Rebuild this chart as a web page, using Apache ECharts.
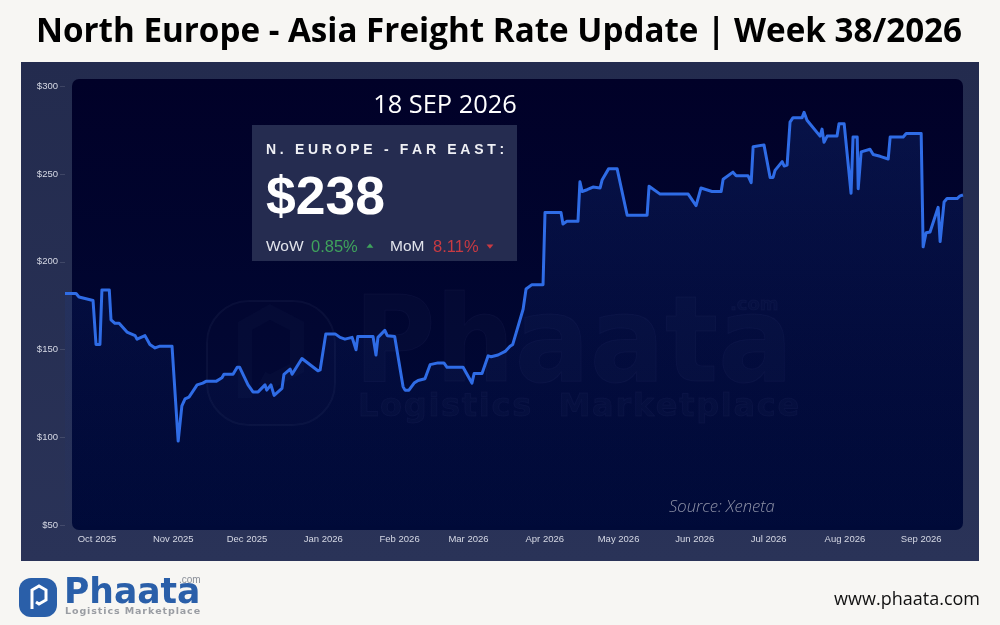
<!DOCTYPE html>
<html><head><meta charset="utf-8">
<style>html,body{margin:0;padding:0;background:#f7f6f3}#c{width:1000px;height:625px}</style>
<script src="https://cdn.jsdelivr.net/npm/echarts@6/dist/echarts.min.js"></script>
</head><body><div id="c"></div>
<script>
const startDate = '2025-09-18';
const endDate = '2026-09-18';
const monthTicks = ['2025-10-01','2025-11-01','2025-12-01','2026-01-01','2026-02-01','2026-03-01','2026-04-01','2026-05-01','2026-06-01','2026-07-01','2026-08-01','2026-09-01'];
// days after startDate
const dayOffsets = [0,4.5,5.7,11.4,12.6,14.2,15,18,18.7,20.3,22,25.2,28.5,29.3,32.5,34.5,36.6,38.6,43.5,46,46.7,47.5,48.8,50.4,53.7,56,57.3,61.4,63.8,64.6,68.3,70,71,74.4,75.2,76.4,78.5,81.3,82,83.7,85,88.2,89,91.5,92.3,96.3,102.8,103.7,106,109.8,111.8,113.8,116.7,117.5,118.3,119,125.2,126.4,127.2,130,131,134,137.4,138.2,139.8,141.9,143.5,146.3,148.4,151.6,154,155.3,161.8,165.4,166.3,169.5,172,173.2,176,178.9,180.9,182,186.2,187.4,189.8,194.3,195.1,201.6,202.4,204,208.5,209.3,210.2,212.2,214.6,215.4,217.5,218.3,221,224.4,228.5,236.6,237.4,241.9,253.3,256.5,258.5,263,266.7,267.5,271.5,272.8,277.6,278.9,279.7,280.5,284.1,286.6,287.8,288.6,291.5,292.3,293.5,294.7,295.9,299.6,300.4,301.6,306.9,307.7,308.5,309.8,313.8,314.6,316.7,319.5,319.9,320.3,322,322.4,322.8,323.6,327.2,328.5,331.3,334.6,335.4,340.7,341.9,348,348.8,349.2,350,351.6,354.9,355.7,357.3,358.5,362.6,363.8,365];
const rates = [182,182,180,178,153,153,184,184,167,165,165,160,158,156,158,153,151,152,152,98,98,118,122,123,130,131,132,132,134,136,136,140,140,130,129,126,126,130,127,130,124,128,136,139,136,145,138,138.5,159,159,157,156,157,157,150,157.5,157.5,147,157,161,158,157.5,129,127,127,131,132.5,133.5,141.5,142.5,142.5,140,140,131,136.5,136.5,146.5,146,147,149,152,153,173,184.5,187,187,228,228,221.5,223,223,245.5,240,241,242.5,242,242,246.5,253,253,226.5,226.5,243,238.5,238.5,232,242,240,240,247,251,249,249,245,265.5,266.5,266.5,248,248,252,257,254.5,255,279.5,282,282,285,280.5,271.5,275.5,268,271.5,271.5,278.5,278.5,239,239,271,271,241.5,241.5,262.5,264,261,260,258.5,271,271,273,273,208.5,208.5,216.5,217,231,211.5,234,236,236,237.5,238];
const yTicks = {min:50,max:300,step:50};
const titleText = 'North Europe - Asia Freight Rate Update | Week 38/2026';

const DAY = 86400000;
const t0 = Date.parse(startDate + 'T00:00:00Z');
const points = dayOffsets.map((d,i)=>[t0 + d*DAY, rates[i]]);
const monthValues = monthTicks.map(m=>Date.parse(m+'T00:00:00Z'));

// tracked text: draw glyph by glyph with extra advance
const tracked = {'N. EUROPE - FAR EAST:':3.7,'Logistics Marketplace':0.9,'Logistics  Marketplace':1.7};
const _ft = CanvasRenderingContext2D.prototype.fillText;
const _st = CanvasRenderingContext2D.prototype.strokeText;
CanvasRenderingContext2D.prototype.fillText = function(s,x,y,m){
  const t = tracked[s];
  if(t!==undefined){let cx=x;for(const c of s){_ft.call(this,c,cx,y);cx+=this.measureText(c).width+t;}return;}
  return m===undefined?_ft.call(this,s,x,y):_ft.call(this,s,x,y,m);
};
CanvasRenderingContext2D.prototype.strokeText = function(s,x,y,m){
  const t = tracked[s];
  if(t!==undefined){let cx=x;for(const c of s){_st.call(this,c,cx,y);cx+=this.measureText(c).width+t;}return;}
  return m===undefined?_st.call(this,s,x,y):_st.call(this,s,x,y,m);
};

const sans='"Liberation Sans",Arial,sans-serif', open='"Open Sans",sans-serif';
function txt(x,y,text,font,fill,align,z,extra){return Object.assign({type:'text',x,y,z:z||5,silent:true,style:{text,font,fill,textAlign:align||'left',textVerticalAlign:'middle'}},extra||{});}
const wm='rgba(150,165,210,0.028)';
const wmStroke={stroke:'rgba(150,165,210,0.05)',lineWidth:1};
function wmTxt(x,y,text,font,extra){const e=txt(x,y,text,font,wm,'left',-8,extra);Object.assign(e.style,wmStroke);return e;}
const chart = echarts.init(document.getElementById('c'),null,{renderer:'canvas'});
chart.setOption({
  animation:false,
  backgroundColor:'#f7f6f3',
  textStyle:{fontFamily:sans},
  grid:{left:65,right:37,top:86,bottom:99.5,containLabel:false},
  xAxis:{type:'time',min:t0,max:Date.parse(endDate+'T00:00:00Z'),
    axisLine:{show:false},axisTick:{show:false},splitLine:{show:false},
    axisLabel:{color:'#d5d8e4',fontSize:9.5,margin:9,hideOverlap:false,customValues:monthValues,
      formatter:'{MMM} {yyyy}'}},
  yAxis:{type:'value',min:yTicks.min,max:yTicks.max,interval:yTicks.step,
    axisLine:{show:false},splitLine:{show:false},
    axisTick:{show:true,length:5,lineStyle:{color:'rgba(255,255,255,0.12)'}},
    axisLabel:{color:'#d5d8e4',fontSize:9.5,margin:7,formatter:'${value}'}},
  useUTC:true,
  series:[{type:'line',data:points,showSymbol:false,symbol:'none',smooth:false,z:3,
    lineStyle:{color:'#2f6ce6',width:3,join:'round'},
    areaStyle:{origin:'start',color:new echarts.graphic.LinearGradient(0,0,0,1,[{offset:0,color:'rgba(28,72,170,0.34)'},{offset:1,color:'rgba(20,50,140,0.02)'}])}}],
  graphic:{elements:[
    {type:'rect',z:-10,silent:true,shape:{x:21,y:62,width:958,height:499},style:{fill:new echarts.graphic.LinearGradient(0,0,0,1,[{offset:0,color:'#232b4e'},{offset:1,color:'#2a3358'}])}},
    {type:'rect',z:-9,silent:true,shape:{x:72,y:79,width:891,height:451,r:7},style:{fill:new echarts.graphic.LinearGradient(0,0,0,1,[{offset:0,color:'#010128'},{offset:1,color:'#000a38'}])}},
    // watermark
    {type:'rect',z:-8,silent:true,shape:{x:207,y:301,width:128,height:124,r:42},style:{fill:'rgba(150,165,210,0.012)',stroke:'rgba(150,165,210,0.06)',lineWidth:2}},
    {type:'polyline',z:-8,silent:true,shape:{points:[[245,398],[245,326],[270,312],[297,326],[297,368],[270,382],[262,378]]},style:{fill:'none',stroke:wm,lineWidth:14}},
    wmTxt(354,350,'Phaata','bold 119px "DejaVu Sans"',{scaleX:0.935}),
    wmTxt(358,408,'Logistics  Marketplace','bold 32px "DejaVu Sans"'),
    wmTxt(730,305,'.com','bold 18px "DejaVu Sans"'),
    // title
    txt(499,33,titleText,'bold 33.2px '+open,'#000000','center'),
    txt(445,106,'18 SEP 2026','25.4px '+open,'#ffffff','center'),
    txt(669,507,'Source: Xeneta','italic 300 16.6px '+open,'#8f93a8','left'),
    // stat box
    {type:'rect',z:4,silent:true,shape:{x:252,y:125,width:265,height:136},style:{fill:'#252c50'}},
    txt(266,150,'N. EUROPE - FAR EAST:','bold 14px '+sans,'#eff0f5'),
    txt(266,199,'$238','bold 53.5px '+sans,'#ffffff'),
    txt(266,247,'WoW','15.5px '+sans,'#e2e4ec'),
    txt(311,247,'0.85%','16.5px '+sans,'#3fa35c'),
    txt(366.5,246,'▲','9px "DejaVu Sans"','#3fa35c','left',5,{scaleY:0.6,originY:0}),
    txt(390,247,'MoM','15.5px '+sans,'#e2e4ec'),
    txt(433,247,'8.11%','16.5px '+sans,'#c83a42'),
    txt(486.5,247,'▼','9px "DejaVu Sans"','#c83a42','left',5,{scaleY:0.6,originY:0}),
    // footer logo
    {type:'rect',z:5,silent:true,shape:{x:19,y:578,width:38,height:39,r:12},style:{fill:'#2a5fa9'}},
    {type:'polyline',z:6,silent:true,shape:{points:[[32,609],[32,590],[39,586],[46,590],[46,600],[39,604],[36,602]]},style:{fill:'none',stroke:'#ffffff',lineWidth:3}},
    txt(64,594,'Phaata','bold 36px "DejaVu Sans"','#2a5fa9','left',5,{scaleX:0.96}),
    txt(179,580,'.com','10px '+sans,'#8a8f98'),
    txt(65,612,'Logistics Marketplace','bold 9.5px "DejaVu Sans"','#9a9da3'),
    txt(980,600,'www.phaata.com','18px '+open,'#111111','right')
  ]}
});
</script></body></html>
